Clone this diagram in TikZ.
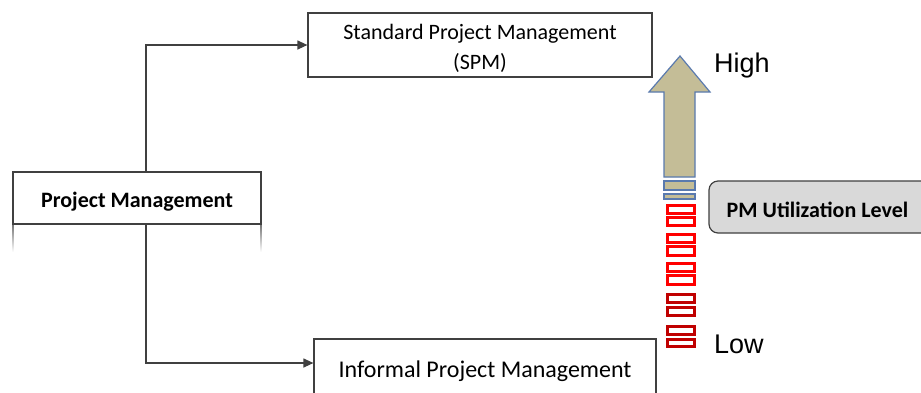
\documentclass[tikz,border=0pt]{standalone}
\usepackage{fontspec}
\setmainfont{Carlito}
\newfontfamily\arialfont{Liberation Sans}
\usetikzlibrary{arrows.meta}
\definecolor{tanfill}{HTML}{C4BD97}
\definecolor{arrowedge}{HTML}{5A7AAE}
\definecolor{lred}{HTML}{FF0000}
\definecolor{dred}{HTML}{C00000}
\definecolor{boxgray}{HTML}{D9D9D9}
\definecolor{linegray}{HTML}{404040}
\tikzset{
  box/.style={draw=linegray, line width=1.2pt, fill=white, inner sep=0pt},
  boxtext/.style={inner sep=0pt, align=center, font=\fontsize{22}{30}\selectfont},
  conn/.style={draw=linegray, line width=1.2pt, -{Triangle[length=10pt,width=9pt]}},
  bar/.style={draw=arrowedge, fill=tanfill, line width=1.2pt},
  redbox/.style={draw=lred, fill=white, line width=3pt},
  darkbox/.style={draw=dred, fill=white, line width=3pt},
  level/.style={font=\arialfont\fontsize{27}{27}\selectfont, inner sep=0pt, anchor=base west},
}
\begin{document}
\begin{tikzpicture}[x=1pt,y=-1pt]
\useasboundingbox (0,0) rectangle (921,392);
\clip (0,0) rectangle (921,392);
\fill[white] (0,0) rectangle (921,392);
% reflections
\shade[top color=black!55, bottom color=white] (12.4,224) rectangle (13.8,252);
\shade[top color=black!55, bottom color=white] (260.2,224) rectangle (261.6,252);
% boxes
\node[box, minimum width=248pt, minimum height=52pt] (pm) at (137,198) {};
\node[boxtext, font=\fontsize{22}{30}\selectfont\bfseries] (pmtext) at (137,202) {Project Management};
\node[box, minimum width=344pt, minimum height=64pt] (spm) at (480,45) {};
\node[boxtext] (spmtext) at (480,48) {Standard Project Management\\(SPM)};
\node[box, minimum width=342pt, minimum height=62pt] (inf) at (485,370) {};
\node[boxtext, font=\fontsize{24}{29}\selectfont] (inftext) at (485,371) {Informal Project Management};
\node[draw=linegray, line width=1.2pt, fill=boxgray, rounded corners=9pt, minimum width=228pt, minimum height=52pt, inner sep=0pt] (util) at (823,207) {};
\node[font=\fontsize{22}{26}\selectfont\bfseries, inner sep=0pt] (utiltext) at (817.5,210) {PM Utilization Level};
% connectors
\draw[conn] ([xshift=9pt]pm.north) |- (spm.west);
\draw[conn] ([xshift=9pt]pm.south) |- ([yshift=7pt]inf.west);
% big arrow
\draw[bar] (664,177) -- (664,92) -- (649,92) -- (680,56) -- (710,92) -- (695,92) -- (695,177) -- cycle;
\draw[bar] (664,181) rectangle (695,190);
\draw[bar] (664,194) rectangle (695,199);
% red stack
\draw[redbox] (667.5,205.5) rectangle (694.5,213.5);
\draw[redbox] (667.5,217.5) rectangle (694.5,225.5);
\draw[redbox] (667.5,234.5) rectangle (694.5,242.5);
\draw[redbox] (667.5,246.5) rectangle (694.5,255.5);
\draw[redbox] (667.5,263.5) rectangle (694.5,271.5);
\draw[redbox] (667.5,275.5) rectangle (694.5,284.5);
\draw[darkbox] (667.5,294.5) rectangle (694.5,302.5);
\draw[darkbox] (667.5,307.5) rectangle (694.5,315.5);
\draw[darkbox] (667.5,326.5) rectangle (694.5,334.5);
\draw[darkbox] (667.5,339.5) rectangle (694.5,346.5);
% labels
\node[level] (high) at (714,72) {High};
\node[level] (low) at (714,353) {Low};
\end{tikzpicture}
\end{document}
